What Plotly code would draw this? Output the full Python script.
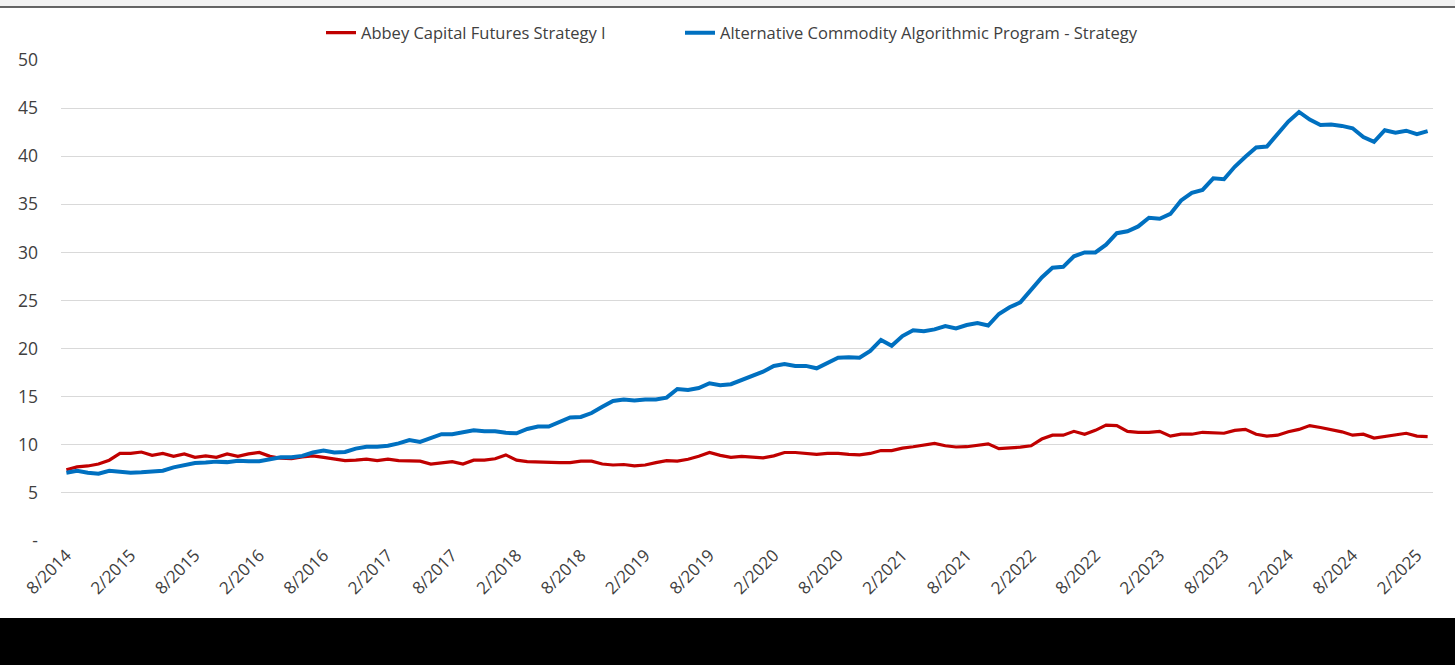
import plotly.graph_objects as go

start_month, start_year = 8, 2014
n_points = 128
months = []
m, y = start_month, start_year
for _ in range(n_points):
    months.append(f"{m}/{y}")
    m += 1
    if m > 12:
        m = 1
        y += 1

abbey = [7.4, 7.7, 7.8, 8.0, 8.4, 9.1, 9.1, 9.25, 8.9, 9.1, 8.8, 9.05, 8.7, 8.85, 8.7, 9.05,
         8.8, 9.05, 9.2, 8.8, 8.6, 8.55, 8.75, 8.85, 8.7, 8.55, 8.35, 8.4, 8.5, 8.35, 8.5, 8.35,
         8.3, 8.3, 8.0, 8.1, 8.25, 8.0, 8.4, 8.4, 8.55, 8.95, 8.4, 8.25, 8.2, 8.15, 8.15, 8.15,
         8.3, 8.3, 8.0, 7.9, 7.95, 7.8, 7.9, 8.15, 8.35, 8.3, 8.5, 8.8, 9.2, 8.9, 8.7, 8.8,
         8.7, 8.65, 8.85, 9.2, 9.2, 9.1, 9.0, 9.1, 9.1, 9.0, 8.95, 9.1, 9.4, 9.4, 9.66, 9.8,
         9.97, 10.15, 9.9, 9.77, 9.8, 9.95, 10.1, 9.6, 9.65, 9.75, 9.9, 10.6, 11.0, 11.0, 11.4, 11.1,
         11.5, 12.05, 12.0, 11.4, 11.3, 11.3, 11.4, 10.9, 11.1, 11.1, 11.3, 11.25, 11.2, 11.5, 11.6, 11.1,
         10.9, 11.0, 11.35, 11.6, 12.0, 11.8, 11.6, 11.35, 11.0, 11.1, 10.7, 10.85, 11.0, 11.2, 10.9, 10.85]

acap = [7.1, 7.3, 7.1, 7.0, 7.3, 7.2, 7.1, 7.15, 7.2, 7.3, 7.65, 7.9, 8.1, 8.15, 8.25, 8.2,
        8.35, 8.3, 8.3, 8.5, 8.7, 8.7, 8.85, 9.2, 9.4, 9.2, 9.25, 9.6, 9.8, 9.8, 9.9, 10.15,
        10.5, 10.3, 10.7, 11.1, 11.1, 11.35, 11.5, 11.4, 11.4, 11.25, 11.2, 11.65, 11.9, 11.9, 12.4, 12.85,
        12.9, 13.3, 13.95, 14.55, 14.7, 14.6, 14.7, 14.7, 14.9, 15.8, 15.7, 15.9, 16.4, 16.2, 16.3, 16.7,
        17.1, 17.6, 18.2, 18.4, 18.2, 18.2, 17.95, 18.5, 19.05, 19.1, 19.05, 19.75, 20.9, 20.3, 21.3, 21.9,
        21.8, 22.0, 22.35, 22.1, 22.45, 22.65, 22.4, 23.6, 24.3, 24.8, 26.1, 27.4, 28.4, 28.5, 29.6, 30.0,
        30.0, 30.8, 32.0, 32.2, 32.7, 33.6, 33.5, 34.0, 35.4, 36.2, 36.5, 37.7, 37.6, 38.9, 39.95, 40.9,
        41.0, 42.3, 43.6, 44.6, 43.8, 43.25, 43.3, 43.15, 42.9, 42.0, 41.5, 42.7, 42.45, 42.65, 42.3, 42.6]

x_ticks = months[::6]
y_tickvals = [0, 5, 10, 15, 20, 25, 30, 35, 40, 45, 50]
y_ticktext = ["-", "5", "10", "15", "20", "25", "30", "35", "40", "45", "50"]

names = ["Abbey Capital Futures Strategy I", "Alternative Commodity Algorithmic Program - Strategy"]
colors = ["#C00000", "#0070C0"]

W, H = 1455, 665
L, R, T, B = 61, 22, 60, 124

fig = go.Figure()
fig.add_trace(go.Scatter(x=months, y=abbey, mode="lines", name=names[0],
                         line=dict(color=colors[0], width=3.2), legend="legend"))
fig.add_trace(go.Scatter(x=months, y=acap, mode="lines", name=names[1],
                         line=dict(color=colors[1], width=4), legend="legend2"))

pw = W - L - R
ph = H - T - B
def px_x(p):
    return (p - L) / pw
def px_y(p):
    return (H - B - p) / ph

shapes = [
    dict(type="rect", xref="paper", yref="paper", x0=px_x(-2), x1=px_x(W + 2), y0=px_y(7), y1=px_y(-2),
         fillcolor="#f2f2f2", line=dict(width=0), layer="below"),
    dict(type="line", xref="paper", yref="paper", x0=px_x(-2), x1=px_x(W + 2), y0=px_y(7), y1=px_y(7),
         line=dict(color="#333333", width=1.5)),
    dict(type="rect", xref="paper", yref="paper", x0=px_x(-2), x1=px_x(W + 2), y0=px_y(H + 2), y1=px_y(618),
         fillcolor="#000000", line=dict(width=0)),
]

font_family = "Open Sans, Liberation Sans, sans-serif"
legend_common = dict(orientation="h", xref="paper", yref="paper", xanchor="left", yanchor="middle",
                     font=dict(size=16.5, color="#404040"), bgcolor="rgba(0,0,0,0)")
fig.update_layout(
    width=W, height=H,
    margin=dict(l=L, r=R, t=T, b=B, pad=0, autoexpand=False),
    paper_bgcolor="white", plot_bgcolor="white",
    font=dict(family=font_family, color="#404040"),
    showlegend=True,
    legend=dict(x=px_x(321), y=px_y(33), **legend_common),
    legend2=dict(x=px_x(680), y=px_y(33), **legend_common),
    xaxis=dict(type="category", range=[-0.5, n_points - 0.5], tickmode="array",
               tickvals=x_ticks, ticktext=x_ticks, tickangle=-45, showgrid=False,
               showline=False, ticks="", tickfont=dict(size=17, color="#404040"), zeroline=False),
    yaxis=dict(range=[0, 50], tickmode="array", tickvals=y_tickvals, ticktext=y_ticktext,
               showgrid=True, gridcolor="#d9d9d9", gridwidth=1, zeroline=False, showline=False,
               ticks="", tickfont=dict(size=17.5, color="#404040"), ticklabelstandoff=22),
    shapes=shapes,
)

fig.write_html("out.html", config={"displayModeBar": False},
               post_script="document.body.style.margin='0px';")
